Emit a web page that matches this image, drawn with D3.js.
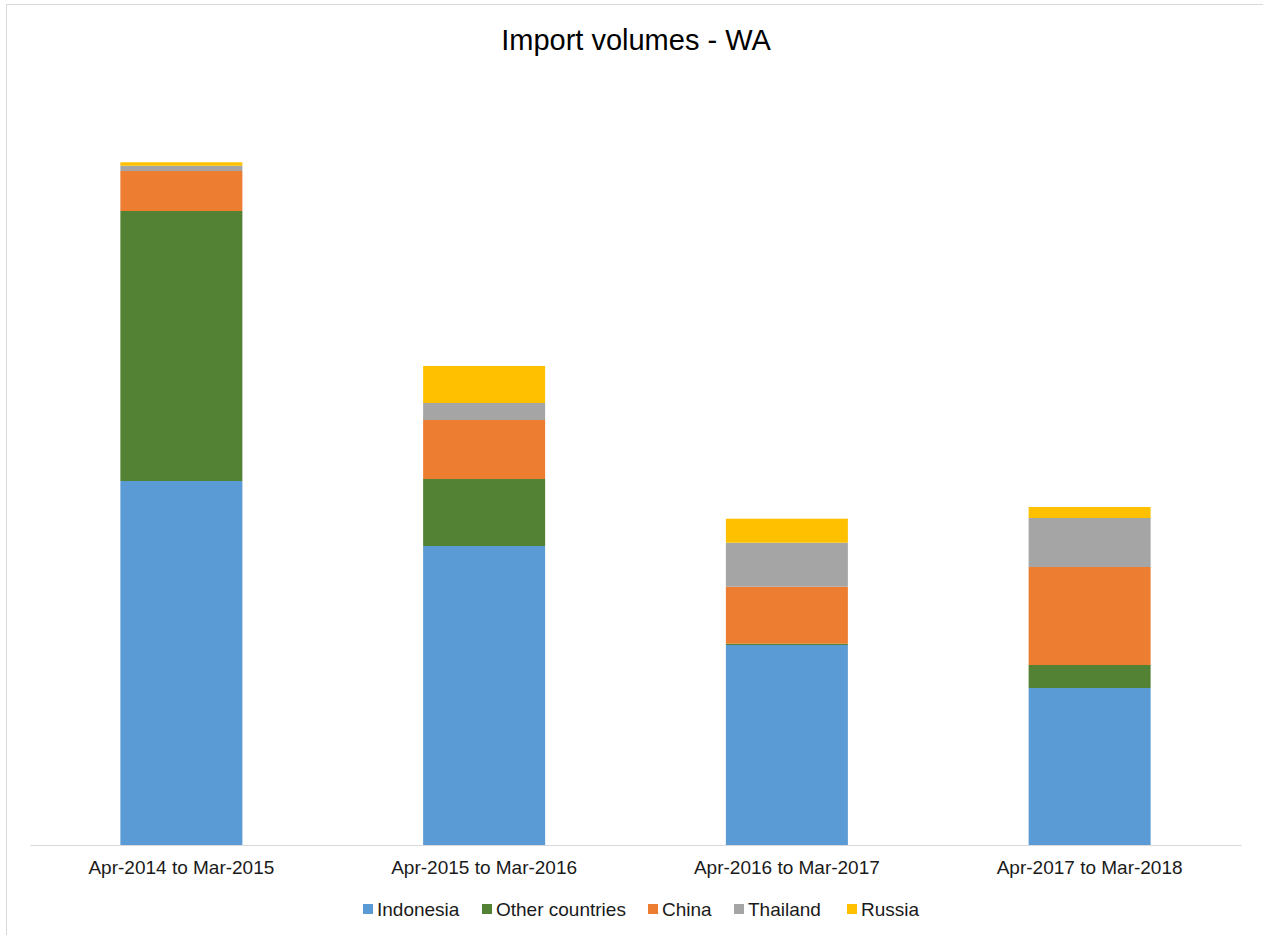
<!DOCTYPE html>
<html lang="en">
<head>
<meta charset="UTF-8">
<title>Import volumes - WA</title>
<script src="https://d3js.org/d3.v7.min.js"></script>
<style>
  body { margin: 0; background: #fff; font-family: "Liberation Sans", Arial, sans-serif; }
  svg { display: block; }
</style>
</head>
<body>
<svg id="chart" width="1263" height="935"></svg>
<script>
// data (no value axis shown, relative units)
const periods = ["Apr-2014 to Mar-2015", "Apr-2015 to Mar-2016", "Apr-2016 to Mar-2017", "Apr-2017 to Mar-2018"];
const seriesNames = ["Indonesia", "Other countries", "China", "Thailand", "Russia"];
const indonesia = [364, 299, 200, 157];
const otherCountries = [270, 67, 1.3, 23];
const china = [40, 59, 57, 98];
const thailand = [5.3, 17, 44, 49];
const russia = [3.4, 37, 24, 11];
const colors = ["#5B9BD5", "#548235", "#ED7D31", "#A5A5A5", "#FFC000"];

const seriesValues = [indonesia, otherCountries, china, thailand, russia];
const rows = periods.map((p, i) => {
  const r = { period: p };
  seriesNames.forEach((s, j) => r[s] = seriesValues[j][i]);
  return r;
});

const svg = d3.select("#chart");

// outer chart frame
svg.append("rect")
  .attr("x", 6.5).attr("y", 4.5)
  .attr("width", 1270).attr("height", 940)
  .attr("fill", "none").attr("stroke", "#D9D9D9");

const left = 30, right = 1241, base = 845;

const x = d3.scaleBand().domain(periods).range([left, right])
  .paddingInner(0.597).paddingOuter(0.2985);
const y = d3.scaleLinear().domain([0, 700]).range([base, 145]);
const color = d3.scaleOrdinal().domain(seriesNames).range(colors);

const stacked = d3.stack().keys(seriesNames)(rows);

svg.append("g")
  .selectAll("g")
  .data(stacked)
  .join("g")
  .attr("fill", d => color(d.key))
  .selectAll("rect")
  .data(d => d)
  .join("rect")
  .attr("x", d => x(d.data.period))
  .attr("width", x.bandwidth())
  .attr("y", d => y(d[1]))
  .attr("height", d => y(d[0]) - y(d[1]));

// category axis
const xAxis = svg.append("g")
  .attr("transform", `translate(0,${base})`)
  .call(d3.axisBottom(x).tickSize(0).tickPadding(16));
xAxis.select(".domain").attr("stroke", "#D9D9D9");
xAxis.selectAll("text")
  .attr("font-family", "Liberation Sans, Arial, sans-serif")
  .attr("font-size", 19)
  .attr("fill", "#1a1a1a");

// title
svg.append("text")
  .attr("x", 636).attr("y", 50)
  .attr("text-anchor", "middle")
  .attr("font-size", 29)
  .attr("fill", "#000")
  .text("Import volumes - WA");

// legend
const legendX = [363, 482, 648, 734, 847];
const legend = svg.append("g").attr("transform", "translate(0,909)");
seriesNames.forEach((s, i) => {
  const g = legend.append("g").attr("transform", `translate(${legendX[i]},0)`);
  g.append("rect").attr("x", 0).attr("y", -5).attr("width", 10).attr("height", 10).attr("fill", colors[i]);
  g.append("text").attr("x", 14).attr("y", 7)
    .attr("font-size", 19).attr("fill", "#1a1a1a").text(s);
});
</script>
</body>
</html>
